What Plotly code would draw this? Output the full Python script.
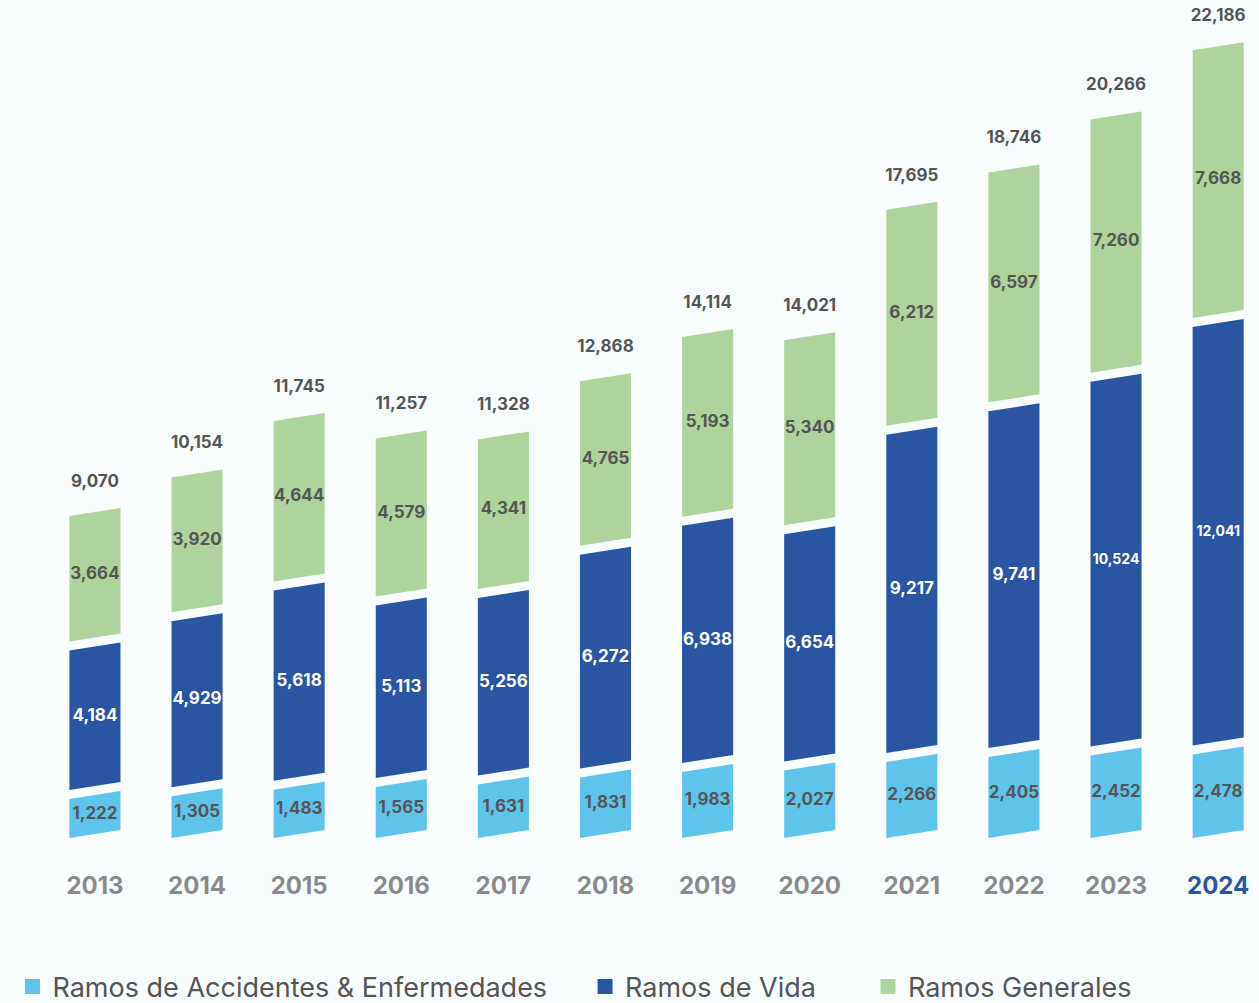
import plotly.graph_objects as go

# ---------------- data ----------------
years = ["2013", "2014", "2015", "2016", "2017", "2018",
         "2019", "2020", "2021", "2022", "2023", "2024"]
accidentes = [1222, 1305, 1483, 1565, 1631, 1831, 1983, 2027, 2266, 2405, 2452, 2478]
vida = [4184, 4929, 5618, 5113, 5256, 6272, 6938, 6654, 9217, 9741, 10524, 12041]
generales = [3664, 3920, 4644, 4579, 4341, 4765, 5193, 5340, 6212, 6597, 7260, 7668]
totales = [9070, 10154, 11745, 11257, 11328, 12868, 14114, 14021, 17695, 18746, 20266, 22186]

series_names = ["Ramos de Accidentes & Enfermedades", "Ramos de Vida", "Ramos Generales"]

# ---------------- style ----------------
COL_ACC = "#5ec4ec"
COL_VIDA = "#2955a3"
COL_GEN = "#afd39c"
BG = "#f9fcfd"
FONT = "Inter"

PX_PER_UNIT = 0.0355          # vertical scale used to size the canvas
PLOT_BOTTOM = 838             # pixel of y = 0
YMAX = PLOT_BOTTOM / PX_PER_UNIT
SLANT = 8 / PX_PER_UNIT       # rise of the right edge (data units)
GAP = 9 / PX_PER_UNIT         # white gap between stacked segments
HALF = 0.25                   # half bar width (category units)

fig = go.Figure()

series = [(accidentes, COL_ACC, "#555555"),
          (vida, COL_VIDA, "#ffffff"),
          (generales, COL_GEN, "#555555")]

base = [0.0] * len(years)
n_series = len(series)
for si, (vals, col, tcol) in enumerate(series):
    xs, ys = [], []
    tx, ty, tt, tsz = [], [], [], []
    for i, v in enumerate(vals):
        a = base[i]
        b = base[i] + v
        lo = a + (GAP / 2 if si > 0 else 0)
        hi = b - (GAP / 2 if si < n_series - 1 else 0)
        xs += [i - HALF, i + HALF, i + HALF, i - HALF, i - HALF, None]
        ys += [lo, lo + SLANT, hi + SLANT, hi, lo, None]
        tx.append(i)
        ty.append((lo + hi) / 2 + SLANT / 2)
        tt.append(f"{v:,}")
        tsz.append(14 if v >= 10000 else 17)
        base[i] = b
    fig.add_trace(go.Scatter(
        x=xs, y=ys, mode="lines", fill="toself", fillcolor=col,
        line=dict(width=0, color=col), showlegend=False, hoverinfo="skip"))
    fig.add_trace(go.Scatter(
        x=tx, y=ty, mode="text", text=tt,
        textfont=dict(family=FONT, size=tsz, color=tcol, weight="bold"),
        showlegend=False, hoverinfo="skip"))

# totals above bars
fig.add_trace(go.Scatter(
    x=list(range(len(years))),
    y=[t + SLANT + 720 for t in base],
    mode="text", text=[f"{t:,}" for t in totales],
    textfont=dict(family=FONT, size=17, color="#555555", weight="bold"),
    showlegend=False, hoverinfo="skip"))

# legend entries, each in its own legend box
legend_ids = ["legend", "legend2", "legend3"]
legend_x = [0.0099, 0.4647, 0.6894]
for name, col, lid in zip(series_names, [COL_ACC, COL_VIDA, COL_GEN], legend_ids):
    fig.add_trace(go.Scatter(
        x=[None], y=[None], mode="markers", name=name, legend=lid,
        marker=dict(symbol="square", size=15, color=col)))

ticktext = [y if y != years[-1] else f"<span style='color:{COL_VIDA}'>{y}</span>"
            for y in years]

legend_common = dict(orientation="h", xref="container", yref="container",
                     xanchor="left", y=0.016, yanchor="middle",
                     font=dict(family=FONT, size=27, color="#555555"),
                     itemsizing="trace", bgcolor="rgba(0,0,0,0)")

fig.update_layout(
    width=1259, height=1003,
    margin=dict(l=49, r=0, t=0, b=1003 - PLOT_BOTTOM),
    paper_bgcolor=BG, plot_bgcolor=BG,
    xaxis=dict(range=[-0.45, 11.4], tickvals=list(range(len(years))), ticktext=ticktext,
               showgrid=False, zeroline=False, showline=False,
               ticks="outside", ticklen=26, tickcolor="rgba(0,0,0,0)",
               tickfont=dict(family=FONT, size=24, color="#8a8a8a", weight="bold"),
               fixedrange=True),
    yaxis=dict(range=[0, YMAX], visible=False, fixedrange=True),
    legend=dict(x=legend_x[0], **legend_common),
    legend2=dict(x=legend_x[1], **legend_common),
    legend3=dict(x=legend_x[2], **legend_common),
    showlegend=True,
)

fig.write_html("out.html")
